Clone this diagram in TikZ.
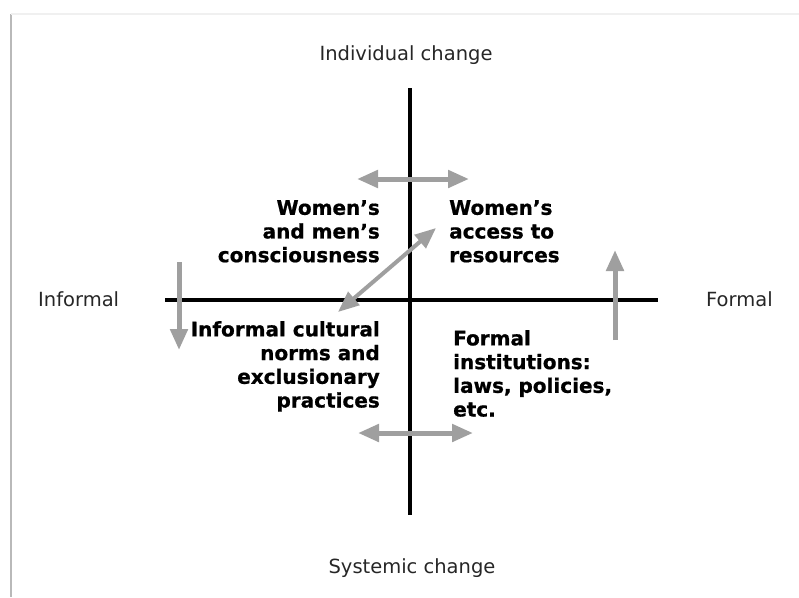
\documentclass[tikz,border=0pt]{standalone}
\usepackage{fontspec}
\setmainfont{DejaVu Sans}
\newfontfamily\quadfont{DejaVu Sans}[BoldFeatures={FakeBold=0.8}]
\usetikzlibrary{arrows.meta}
\tikzset{
  asse/.style={line width=4pt, black},
  punta/.tip={Triangle[length=21pt,width=17pt]},
  freccia/.style={line width=5pt, draw=gray!75, -punta},
  freccia2/.style={line width=5pt, draw=gray!75, punta-punta},
  quad/.style={font=\quadfont\fontsize{20}{23.7}\selectfont\bfseries, inner sep=0pt},
  estremo/.style={font=\fontsize{19.5}{23}\selectfont, text=black!85, inner sep=0pt}
}
\begin{document}
\begin{tikzpicture}[x=1pt, y=-1pt]
  \useasboundingbox (0,0) rectangle (799,597);
  % Cornice
  \draw[gray!55, line width=2.5pt] (11,14) -- (11,597);
  \draw[gray!12, line width=2pt] (11,14) -- (799,14);
  % Assi
  \coordinate (nord) at (410,88);
  \coordinate (sud) at (410,515);
  \coordinate (ovest) at (165,300);
  \coordinate (est) at (658,300);
  \draw[asse] (nord) -- (sud);
  \draw[asse] (ovest) -- (est);
  % Estremi
  \node[estremo, anchor=base] (individuale) at (406,60) {Individual change};
  \node[estremo, anchor=base] (sistemico) at (412,573) {Systemic change};
  \node[estremo, anchor=base west] (informale) at (38,306) {Informal};
  \node[estremo, anchor=base west] (formale) at (706,306) {Formal};
  % Quadranti
  \node[quad, anchor=north east, align=right] (coscienza) at (380,200) {Women’s\\and men’s\\consciousness};
  \node[quad, anchor=north west, align=left] (risorse) at (449,200) {Women’s\\access to\\resources};
  \node[quad, anchor=north east, align=right] (norme) at (380,321) {Informal cultural\\norms and\\exclusionary\\practices};
  \node[quad, anchor=north west, align=left] (istituzioni) at (453,330) {Formal\\institutions:\\laws, policies,\\etc.};
  % Frecce
  \coordinate (a1) at (357,179); \coordinate (a2) at (469,179);
  \coordinate (b1) at (358,433); \coordinate (b2) at (473,433);
  \coordinate (d1) at (338,312); \coordinate (d2) at (436,228);
  \coordinate (s1) at (179,262); \coordinate (s2) at (179,350);
  \coordinate (f1) at (615,340); \coordinate (f2) at (615,250);
  \draw[freccia2] (a1) -- (a2);
  \draw[freccia2] (b1) -- (b2);
  \draw[freccia2, line width=4pt] (d1) -- (d2);
  \draw[freccia] (s1) -- (s2);
  \draw[freccia] (f1) -- (f2);
\end{tikzpicture}
\end{document}
